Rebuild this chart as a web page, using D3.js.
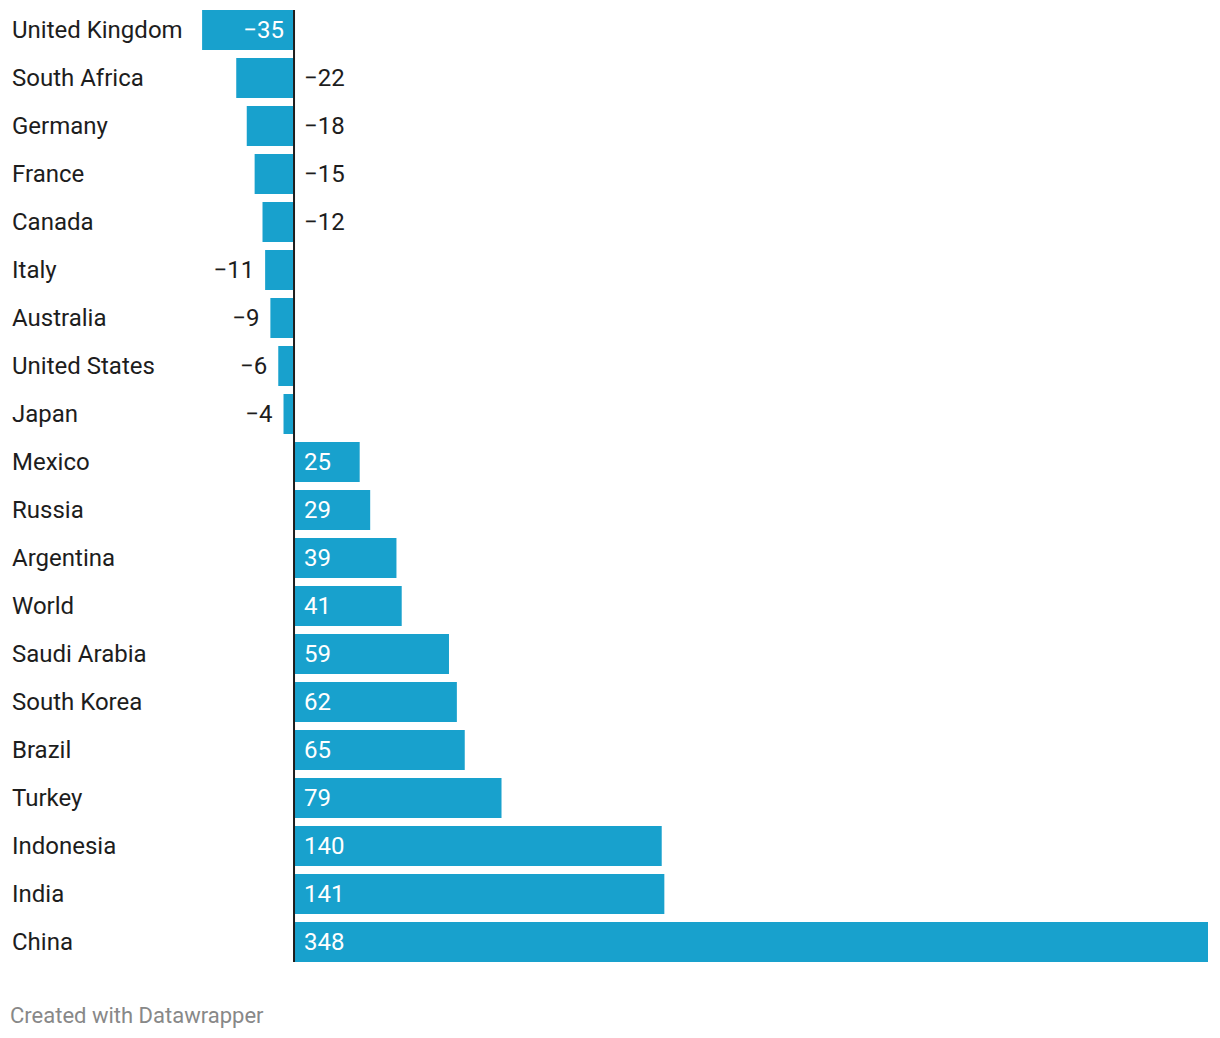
<!DOCTYPE html>
<html><head><meta charset="utf-8">
<script src="https://cdn.jsdelivr.net/npm/d3@7"></script>
<style>body{margin:0;background:#fff;font-family:Roboto,sans-serif;}</style>
</head><body>
<svg id="c" width="1220" height="1038"></svg>
<script>
const countries = ["United Kingdom","South Africa","Germany","France","Canada","Italy","Australia","United States","Japan","Mexico","Russia","Argentina","World","Saudi Arabia","South Korea","Brazil","Turkey","Indonesia","India","China"];
const values = [-35,-22,-18,-15,-12,-11,-9,-6,-4,25,29,39,41,59,62,65,79,140,141,348];
// label placement for negative values: "inside", "right" (right of zero line) or "left" (outside, left of bar)
const negLabelPos = ["inside","right","right","right","right","left","left","left","left"];

const svg = d3.select("#c");
const x = d3.scaleLinear().domain([-35, 348]).range([202.1, 1208]);
const y = d3.scaleBand().domain(countries).range([6, 966]).paddingInner(8/48).paddingOuter(4/48);
const color = "#18a1cd";
const textColor = "#1d1d1d";
const fmt = v => (v < 0 ? "\u2212" + Math.abs(v) : String(v));

const rows = countries.map((c, i) => ({c, v: values[i], pos: values[i] < 0 ? negLabelPos[i] : "inside"}));
const mid = d => y(d.c) + y.bandwidth() / 2;

svg.selectAll("rect.bar").data(rows).join("rect")
  .attr("class","bar")
  .attr("x", d => d.v < 0 ? x(d.v) : x(0) + 1)
  .attr("width", d => d.v < 0 ? x(0) - 1 - x(d.v) : x(d.v) - x(0) - 1)
  .attr("y", d => y(d.c))
  .attr("height", y.bandwidth())
  .attr("fill", color);

svg.append("line")
  .attr("x1", x(0)).attr("x2", x(0))
  .attr("y1", y(countries[0])).attr("y2", y(countries[countries.length-1]) + y.bandwidth())
  .attr("stroke", textColor).attr("stroke-width", 2);

svg.selectAll("text.cat").data(rows).join("text")
  .attr("class","cat")
  .attr("x", 12)
  .attr("y", mid)
  .attr("dy", "0.35em")
  .attr("font-size", 24)
  .attr("fill", textColor)
  .text(d => d.c);

svg.selectAll("text.val").data(rows).join("text")
  .attr("class","val")
  .attr("x", d => {
    if (d.v >= 0) return x(0) + 10;
    if (d.pos === "inside") return x(0) - 10;
    if (d.pos === "right") return x(0) + 10;
    return x(d.v) - 11;
  })
  .attr("text-anchor", d => (d.v < 0 && d.pos !== "right") ? "end" : "start")
  .attr("y", mid)
  .attr("dy", "0.35em")
  .attr("font-size", 24)
  .attr("fill", d => (d.pos === "inside") ? "#ffffff" : textColor)
  .text(d => fmt(d.v));

svg.append("text")
  .attr("x", 10).attr("y", 1015).attr("dy","0.35em")
  .attr("font-size", 22).attr("fill", "#888888")
  .text("Created with Datawrapper");
</script>
</body></html>
